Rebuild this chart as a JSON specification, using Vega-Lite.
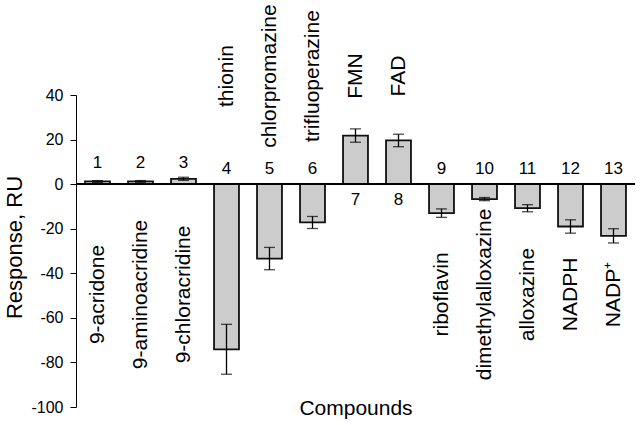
{
  "$schema": "https://vega.github.io/schema/vega-lite/v6.json",
  "width": 559,
  "height": 312,
  "autosize": "none",
  "padding": {"left": 76, "top": 95, "right": 7, "bottom": 18},
  "background": "white",
  "config": {
    "view": {"stroke": null},
    "font": "Liberation Sans",
    "axis": {"grid": false},
    "axisY": {
      "tickCount": 7,
      "tickSize": 6,
      "tickColor": "black",
      "domainColor": "black",
      "labelColor": "black",
      "labelFontSize": 16,
      "labelPadding": 7,
      "labelFont": "Liberation Sans",
      "titleFontSize": 22,
      "titleFontWeight": "normal",
      "titleColor": "black",
      "titleFont": "Liberation Sans",
      "titleX": -62,
      "titleY": 152,
      "titleBaseline": "middle",
      "titleAngle": -90,
      "titleAlign": "center"
    }
  },
  "data": {
    "values": [
      {"id": 1, "name": "9-acridone", "value": 1.2, "lo": 0.8, "hi": 1.6},
      {"id": 2, "name": "9-aminoacridine", "value": 1.2, "lo": 0.8, "hi": 1.6},
      {"id": 3, "name": "9-chloracridine", "value": 2.4, "lo": 1.7, "hi": 3.1},
      {"id": 4, "name": "thionin", "value": -74.1, "lo": -85.3, "hi": -62.9},
      {"id": 5, "name": "chlorpromazine", "value": -33.4, "lo": -38.4, "hi": -28.4},
      {"id": 6, "name": "trifluoperazine", "value": -17.2, "lo": -19.9, "hi": -14.5},
      {"id": 7, "name": "FMN", "value": 21.8, "lo": 18.8, "hi": 24.8},
      {"id": 8, "name": "FAD", "value": 19.6, "lo": 16.8, "hi": 22.4},
      {"id": 9, "name": "riboflavin", "value": -13.0, "lo": -14.9, "hi": -11.1},
      {"id": 10, "name": "dimethylalloxazine", "value": -6.7, "lo": -7.4, "hi": -6.0},
      {"id": 11, "name": "alloxazine", "value": -10.8, "lo": -12.4, "hi": -9.2},
      {"id": 12, "name": "NADPH", "value": -19.0, "lo": -22.0, "hi": -16.0},
      {"id": 13, "name": "NADP⁺", "value": -23.2, "lo": -26.4, "hi": -20.0}
    ]
  },
  "encoding": {
    "x": {
      "field": "id",
      "type": "ordinal",
      "scale": {"paddingInner": 0.42, "paddingOuter": 0.21},
      "axis": {
        "title": "Compounds",
        "labels": false,
        "ticks": false,
        "domain": false,
        "titleY": 1,
        "titleBaseline": "middle",
        "titleFontSize": 21,
        "titleFontWeight": "normal",
        "titleColor": "black",
        "titleFont": "Liberation Sans"
      }
    }
  },
  "layer": [
    {
      "mark": {"type": "bar", "fill": "#cccccc", "stroke": "#111111", "strokeWidth": 1.8},
      "encoding": {
        "y": {
          "field": "value",
          "type": "quantitative",
          "title": "Response, RU",
          "scale": {"domain": [-100, 40], "nice": false, "zero": false},
          "axis": {"labelExpr": "'' + datum.value"}
        }
      }
    },
    {
      "mark": {"type": "rule", "color": "black", "strokeWidth": 1.3},
      "encoding": {
        "y": {"field": "lo", "type": "quantitative", "title": "Response, RU"},
        "y2": {"field": "hi"}
      }
    },
    {
      "mark": {"type": "tick", "color": "black", "size": 11, "thickness": 1.3},
      "encoding": {"y": {"field": "lo", "type": "quantitative", "title": "Response, RU"}}
    },
    {
      "mark": {"type": "tick", "color": "black", "size": 11, "thickness": 1.3},
      "encoding": {"y": {"field": "hi", "type": "quantitative", "title": "Response, RU"}}
    },
    {
      "mark": {"type": "rule", "color": "black", "strokeWidth": 1.3},
      "encoding": {"y": {"datum": 0, "title": "Response, RU"}, "x": {"value": 0}, "x2": {"value": 559}}
    },
    {
      "transform": [{"filter": "datum.value > 0 && datum.value < 10"}],
      "mark": {"type": "text", "fontSize": 17, "baseline": "middle", "align": "center", "dy": -21, "color": "black"},
      "encoding": {"y": {"datum": 0, "title": "Response, RU"}, "text": {"field": "id"}}
    },
    {
      "transform": [{"filter": "datum.value < 0"}],
      "mark": {"type": "text", "fontSize": 17, "baseline": "middle", "align": "center", "dy": -15, "color": "black"},
      "encoding": {"y": {"datum": 0, "title": "Response, RU"}, "text": {"field": "id"}}
    },
    {
      "transform": [{"filter": "datum.value >= 10"}],
      "mark": {"type": "text", "fontSize": 17, "baseline": "middle", "align": "center", "dy": 16, "color": "black"},
      "encoding": {"y": {"datum": 0, "title": "Response, RU"}, "text": {"field": "id"}}
    },
    {
      "transform": [{"filter": "datum.id >= 4 && datum.id <= 8"}],
      "mark": {"type": "text", "fontSize": 21, "baseline": "middle", "align": "center", "angle": 270, "color": "black"},
      "encoding": {"y": {"datum": 48.5, "title": "Response, RU"}, "text": {"field": "name"}}
    },
    {
      "transform": [{"filter": "datum.id < 4 || datum.id > 8"}],
      "mark": {"type": "text", "fontSize": 21, "baseline": "middle", "align": "center", "angle": 270, "color": "black"},
      "encoding": {"y": {"datum": -49.5, "title": "Response, RU"}, "text": {"field": "name"}}
    }
  ]
}
